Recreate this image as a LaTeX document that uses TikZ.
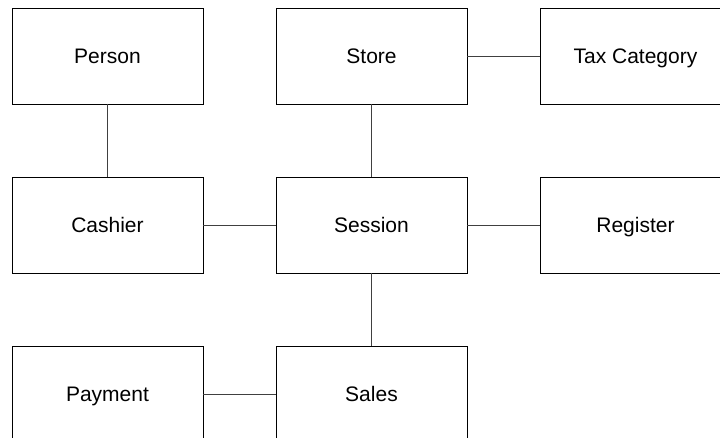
\documentclass[tikz,border=0pt]{standalone}
\usepackage{fontspec}
\setmainfont{Liberation Sans}
\usetikzlibrary{positioning}
\tikzset{
  entity/.style={draw, line width=0.8pt, rectangle, outer sep=0pt, minimum width=191pt, minimum height=96pt, text height=16pt, text depth=1.4pt, font=\fontsize{21}{25}\selectfont},
  link/.style={draw, line width=0.8pt, black!75}
}
\begin{document}
\begin{tikzpicture}[x=1pt, y=-1pt, node distance=73pt]
\useasboundingbox (0,0) rectangle (720,438);
\clip (0,0) rectangle (720,438);

% Boxes
\node[entity] (person) at (107.5,56) {Person};
\node[entity, right=of person] (store) {Store};
\node[entity, right=of store] (tax) {Tax Category};

\node[entity, below=of person] (cashier) {Cashier};
\node[entity, right=of cashier] (session) {Session};
\node[entity, right=of session] (register) {Register};

\node[entity, below=of cashier] (payment) {Payment};
\node[entity, right=of payment] (sales) {Sales};

% Links
\draw[link] (person) -- (cashier);
\draw[link] (store) -- (tax);
\draw[link] (store) -- (session);
\draw[link] (cashier) -- (session);
\draw[link] (session) -- (register);
\draw[link] (session) -- (sales);
\draw[link] (payment) -- (sales);

\end{tikzpicture}
\end{document}
